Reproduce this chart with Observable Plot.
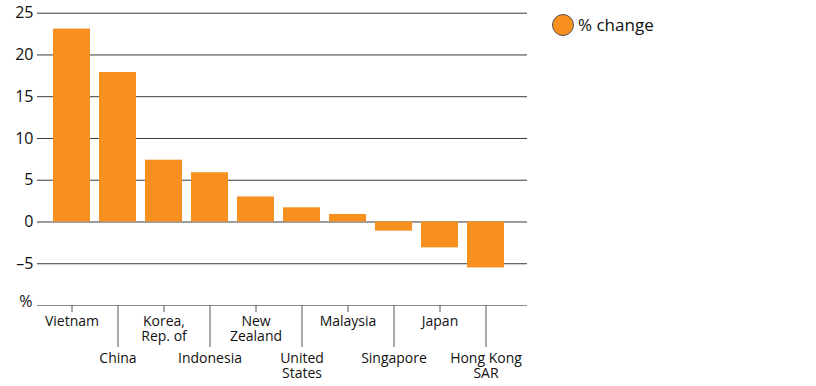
<!DOCTYPE html>
<html>
<head>
<meta charset="utf-8">
<script src="https://cdn.jsdelivr.net/npm/d3@7"></script>
<script src="https://cdn.jsdelivr.net/npm/@observablehq/plot@0.6"></script>
<style>
  body { margin: 0; background: #fff; }
  #wrap { position: relative; width: 816px; height: 386px; font-family: "Open Sans", sans-serif; }
  #legend { position: absolute; left: 552px; top: 13px; display: flex; align-items: center; font-size: 17px; color: #111; }
  #legend .sw { width: 20px; height: 20px; border-radius: 50%; background: #F7901E; border: 1px solid #555; margin-right: 4px; }
</style>
</head>
<body>
<div id="wrap"><div id="legend"><span class="sw"></span><span>% change</span></div></div>
<script>
const categories = ["Vietnam", "China", "Korea,\nRep. of", "Indonesia", "New\nZealand", "United\nStates", "Malaysia", "Singapore", "Japan", "Hong Kong\nSAR"];
const values = [23.1, 17.9, 7.4, 5.9, 3.0, 1.7, 0.9, -1.1, -3.1, -5.5];
const yTicks = [-5, 0, 5, 10, 15, 20, 25];
const yMin = -10;
const unitLabel = "%";
const seriesName = "% change";

const data = categories.map((c, i) => ({category: c, value: values[i]}));
const evenCats = categories.filter((c, i) => i % 2 === 0);
const oddCats = categories.filter((c, i) => i % 2 === 1);

const chart = Plot.plot({
  width: 816,
  height: 386,
  marginLeft: 37,
  marginRight: 289,
  marginTop: 12,
  marginBottom: 81,
  style: {fontFamily: "Open Sans, sans-serif", color: "#111", background: "#fff"},
  x: {domain: categories, range: [47.6, 509.8], paddingInner: 0.2, paddingOuter: 0.1, axis: null, label: null},
  y: {domain: [yMin, 25], range: [305, 12.7], axis: null, label: null},
  marks: [
    Plot.ruleY(yTicks, {stroke: "#3a3a3a", strokeWidth: 1}),
    Plot.barY(data, {x: "category", y: "value", fill: "#F7901E"}),
    Plot.ruleY([yMin], {stroke: "#8a8a8a", strokeWidth: 1}),
    Plot.axisY({ticks: yTicks, tickSize: 0, tickPadding: 4, fontSize: 16, label: null,
      tickFormat: d => d < 0 ? "\u2013" + Math.abs(d) : String(d)}),
    Plot.text([unitLabel], {y: [yMin], frameAnchor: "left", textAnchor: "end", dx: -5, dy: -4, fontSize: 16, fill: "#111"}),
    Plot.axisX(evenCats, {tickSize: 7, tickPadding: 2, fontSize: 14, lineHeight: 1.12, stroke: "#555", label: null}),
    Plot.axisX(oddCats, {tickSize: 42, tickPadding: 4, fontSize: 14, lineHeight: 1.12, stroke: "#555", label: null})
  ]
});
document.getElementById("wrap").prepend(chart);
</script>
</body>
</html>
